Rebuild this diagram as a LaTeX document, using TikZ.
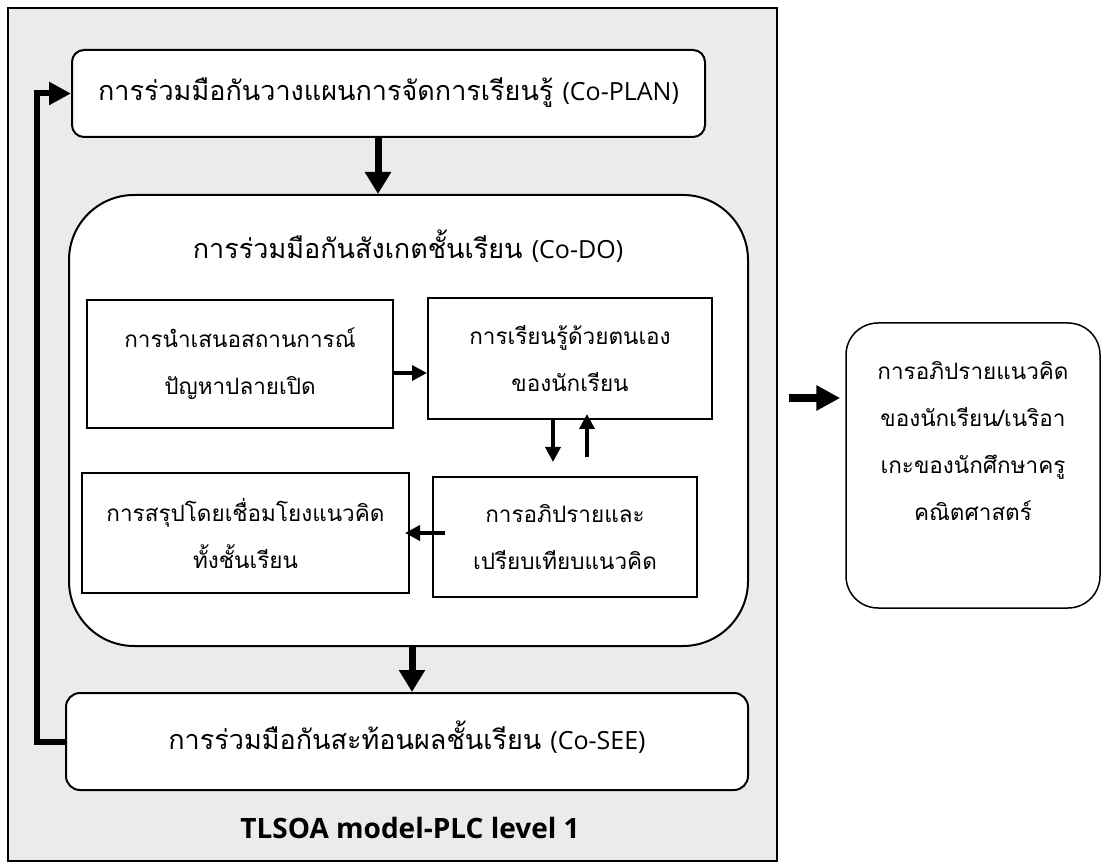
\documentclass[tikz,border=0pt]{standalone}
\usepackage{fontspec}
\setmainfont[Script=Thai]{Loma}
\newfontfamily\latinfont{Open Sans}
\usetikzlibrary{arrows.meta,calc}

% Latin tag after a Thai phase title
\newcommand{\phasetag}[1]{{\fontsize{25}{40}\latinfont (#1)}}

\begin{document}
\begin{tikzpicture}[x=1pt,y=-1pt,
  txt/.style={font=\fontsize{22.5}{47}\selectfont, align=center, inner sep=0pt},
  phase/.style={font=\fontsize{27}{47}\selectfont, align=center, inner sep=0pt,
                text height=15pt, text depth=0pt},
  box/.style={draw, line width=2pt, fill=white, txt},
  fatarrow/.style={line width=7pt, -{Triangle[length=22pt,width=25pt]}},
  looparrow/.style={line width=6pt, -{Triangle[length=22pt,width=22pt]}},
  smallarrow/.style={line width=3.5pt, -{Triangle[length=15pt,width=15pt]}},
]
\useasboundingbox (0,0) rectangle (1101,866);

% outer panel
\node[draw, line width=2.5pt, fill=black!8, minimum width=769pt,
      minimum height=853pt, inner sep=0pt] (frame) at (392.5,434.5) {};

% the three phases
\node[box, phase, rounded corners=12pt, minimum width=633pt, minimum height=87pt]
  (plan) at (388.5,93.5) {การร่วมมือกันวางแผนการจัดการเรียนรู้ \phasetag{Co-PLAN}};
\node[box, rounded corners=65pt, minimum width=679pt, minimum height=451pt]
  (codo) at (408.5,420.5) {};
\node[phase] (codotitle) at (408,251) {การร่วมมือกันสังเกตชั้นเรียน \phasetag{Co-DO}};
\node[box, phase, rounded corners=14pt, minimum width=682pt, minimum height=97pt]
  (cosee) at (407,741.5) {การร่วมมือกันสะท้อนผลชั้นเรียน \phasetag{Co-SEE}};

% steps inside Co-DO
\node[box, minimum width=306pt, minimum height=128pt] (s1) at (240,364)
  {การนำเสนอสถานการณ์\\ปัญหาปลายเปิด};
\node[box, minimum width=284pt, minimum height=121pt] (s2) at (570,358.5)
  {การเรียนรู้ด้วยตนเอง\\ของนักเรียน};
\node[box, minimum width=327pt, minimum height=120pt] (s3) at (245.5,533)
  {การสรุปโดยเชื่อมโยงแนวคิด\\ทั้งชั้นเรียน};
\node[box, minimum width=264pt, minimum height=120pt] (s4) at (565,537)
  {การอภิปรายและ\\เปรียบเทียบแนวคิด};

% caption of the panel
\node[inner sep=0pt, font=\fontsize{28}{30}\latinfont\bfseries] (caption) at (410,828)
  {TLSOA model-PLC level 1};

% outcome box
\node[draw, line width=1.5pt, fill=white, rounded corners=32pt,
      minimum width=254pt, minimum height=285pt] (out) at (973,465.5) {};
\node[txt] (outtext) at (973,441.5)
  {การอภิปรายแนวคิด\\ของนักเรียน/เนริอา\\เกะของนักศึกษาครู\\คณิตศาสตร์};

% connectors
\draw[fatarrow] ([xshift=-10.5pt]plan.south) -- ([xshift=-30.5pt]codo.north);
\draw[fatarrow] ([xshift=3.5pt]codo.south) -- ([xshift=5pt]cosee.north);
\draw[looparrow] (cosee.west) -- ++(-28,0) |- (plan.west);

\draw[smallarrow] ([yshift=-9pt]s1.east) -- ([yshift=-14.5pt]s2.west);
\draw[smallarrow, shorten >=14pt] ([xshift=-17pt]s2.south) -- ([xshift=-12pt]s4.north);
\draw[smallarrow, shorten <=19pt, shorten >=-6pt] ([xshift=22pt]s4.north) -- ([xshift=17pt]s2.south);
\draw[smallarrow, shorten <=-13pt, shorten >=-5pt] ([yshift=4pt]s4.west) -- (s3.east);

\coordinate (rtail) at (789,398);
\draw[line width=7.5pt, -{Triangle[length=24pt,width=24pt]}, shorten >=5pt]
  (rtail) -- (rtail -| out.west);
\end{tikzpicture}
\end{document}
